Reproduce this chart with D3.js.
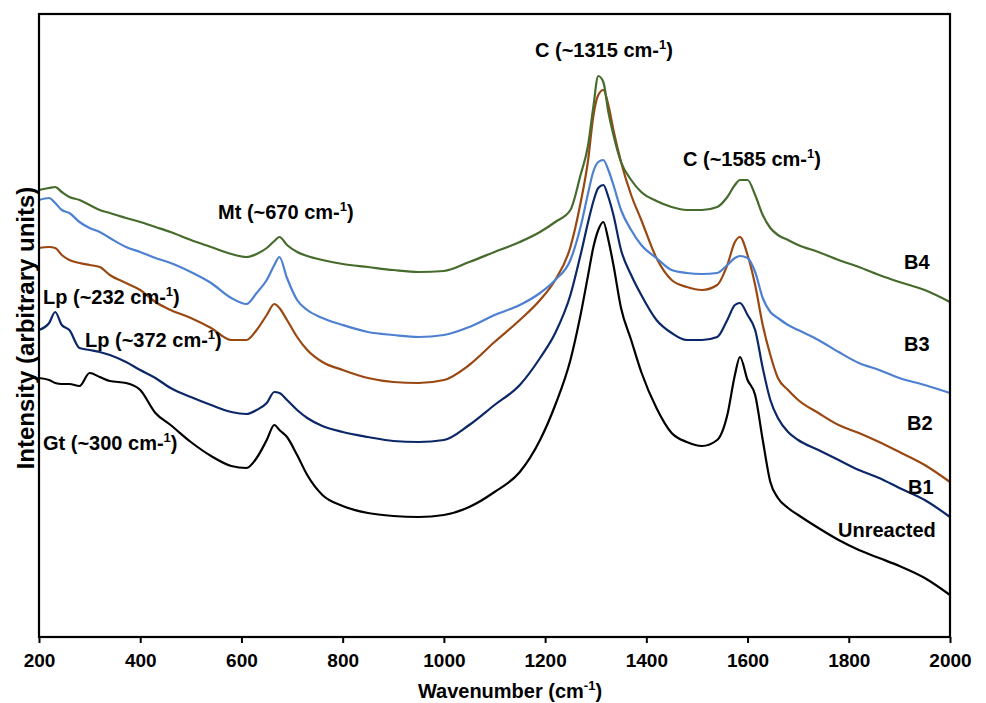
<!DOCTYPE html>
<html>
<head>
<meta charset="utf-8">
<script src="https://cdn.jsdelivr.net/npm/d3@7"></script>
<style>
  html, body { margin: 0; padding: 0; background: #fff; }
  svg { display: block; }
  text { font-family: Arial, "Liberation Sans", sans-serif; font-weight: bold; fill: #000; }
</style>
</head>
<body>
<svg id="chart" width="986" height="703"></svg>
<script>
// Wavenumber grid (cm-1)
const wavenumber = [200, 220, 232, 245, 260, 280, 300, 320, 340, 372,
  400, 430, 460, 500, 540, 580, 610, 630, 650, 665,
  675, 690, 710, 730, 760, 800, 850, 900, 950, 1000,
  1050, 1100, 1150, 1190, 1220, 1250, 1270, 1285, 1295, 1305,
  1315, 1325, 1335, 1350, 1370, 1390, 1420, 1450, 1480, 1510,
  1540, 1560, 1575, 1585, 1600, 1615, 1630, 1645, 1660, 1680,
  1700, 1740, 1780, 1820, 1860, 1900, 1950, 2000];

// Intensities (arbitrary units, offset as in the figure)
const unreacted = [259, 257, 254, 253, 253, 251, 264, 260, 256, 254,
  247, 224, 212, 195, 181, 171, 169, 179, 197, 212,
  207, 200, 182, 162, 142, 131, 124, 121, 120, 122,
  130, 145, 165, 197, 232, 277, 322, 362, 389, 407,
  415, 397, 372, 329, 297, 265, 229, 204, 195, 191,
  197, 222, 262, 280, 257, 242, 197, 155, 139, 129,
  122, 109, 97, 87, 79, 71, 59, 42];

const b1 = [307, 314, 325, 312, 307, 289, 287, 285, 282, 275,
  267, 259, 249, 240, 232, 225, 223, 227, 234, 245,
  244, 237, 227, 219, 211, 205, 200, 196, 195, 197,
  212, 232, 252, 279, 304, 342, 382, 415, 435, 449,
  452, 440, 422, 387, 362, 342, 317, 304, 297, 297,
  300, 317, 332, 334, 322, 307, 269, 237, 219, 205,
  197, 187, 177, 167, 159, 149, 137, 120];

const b2 = [389, 390, 389, 382, 377, 374, 372, 370, 362, 354,
  347, 335, 327, 319, 309, 297, 297, 307, 322, 333,
  329, 317, 300, 287, 275, 267, 259, 255, 254, 257,
  272, 295, 317, 337, 357, 390, 434, 477, 520, 542,
  547, 532, 507, 475, 442, 417, 379, 357, 350, 347,
  352, 372, 395, 400, 382, 352, 312, 282, 259, 247,
  237, 224, 212, 204, 195, 185, 172, 155];

const b3 = [437, 439, 434, 427, 424, 415, 409, 405, 399, 390,
  385, 379, 374, 365, 354, 339, 333, 344, 357, 372,
  380, 359, 337, 327, 319, 312, 305, 302, 300, 302,
  310, 322, 332, 344, 357, 377, 410, 444, 465, 475,
  477, 467, 452, 427, 407, 392, 379, 367, 364, 363,
  364, 372, 379, 381, 379, 365, 339, 325, 319, 312,
  307, 297, 285, 274, 267, 259, 252, 244];

const b4 = [447, 449, 450, 445, 440, 437, 432, 427, 424, 419,
  415, 410, 405, 397, 390, 383, 380, 383, 389, 396,
  400, 392, 385, 381, 377, 373, 370, 367, 365, 366,
  375, 385, 395, 405, 415, 427, 462, 492, 529, 561,
  555, 525, 502, 475, 457, 445, 436, 430, 427, 427,
  430, 440, 452, 457, 457, 442, 422, 409, 402, 397,
  392, 385, 377, 370, 362, 355, 347, 335];

const seriesNames = ["Unreacted", "B1", "B2", "B3", "B4"];
const seriesColors = ["#000000", "#0b2767", "#9a4812", "#4e80d2", "#466b2c"];
const seriesValues = [unreacted, b1, b2, b3, b4];

const xTicks = [200, 400, 600, 800, 1000, 1200, 1400, 1600, 1800, 2000];

// Peak annotations (superscript "1" appended)
const peakLabels = ["C (~1315 cm-", "C (~1585 cm-", "Mt (~670 cm-", "Lp (~232 cm-", "Lp (~372 cm-", "Gt (~300 cm-"];
const seriesLabels = ["Unreacted", "B1", "B2", "B3", "B4"];

// ---------- layout ----------
const svg = d3.select("#chart");
const plot = { left: 39, right: 950, top: 14, bottom: 637 };

const x = d3.scaleLinear().domain([200, 2000]).range([plot.left, plot.right]);
const y = d3.scaleLinear().domain([0, 623]).range([plot.bottom, plot.top]);

const line = d3.line()
  .x((d, i) => x(wavenumber[i]))
  .y(d => y(d))
  .curve(d3.curveMonotoneX);

const gLines = svg.append("g");
seriesValues.forEach((vals, k) => {
  gLines.append("path")
    .datum(vals)
    .attr("fill", "none")
    .attr("stroke", seriesColors[k])
    .attr("stroke-width", 2.2)
    .attr("stroke-linejoin", "round")
    .attr("d", line);
});

// frame
svg.append("rect")
  .attr("x", plot.left).attr("y", plot.top)
  .attr("width", plot.right - plot.left).attr("height", plot.bottom - plot.top)
  .attr("fill", "none").attr("stroke", "#000").attr("stroke-width", 2.2);

// x axis
const xAxis = d3.axisBottom(x).tickValues(xTicks).tickSize(6).tickSizeOuter(0).tickPadding(11).tickFormat(d3.format("d"));
const gx = svg.append("g").attr("transform", `translate(0,${plot.bottom})`).call(xAxis);
gx.select(".domain").remove();
gx.selectAll(".tick line").attr("stroke", "#000").attr("stroke-width", 2);
gx.selectAll(".tick text").attr("font-size", 19).attr("font-weight", "bold")
  .attr("font-family", "Arial, 'Liberation Sans', sans-serif").attr("fill", "#000");

// axis titles
const xt = svg.append("text").attr("x", 510).attr("y", 698).attr("text-anchor", "middle").attr("font-size", 20);
xt.append("tspan").text("Wavenumber (cm");
xt.append("tspan").attr("font-size", 13).attr("dy", -8).text("-1");
xt.append("tspan").attr("dy", 8).text(")");

svg.append("text")
  .attr("transform", "translate(34,328) rotate(-90)")
  .attr("text-anchor", "middle").attr("font-size", 24)
  .text("Intensity (arbitrary units)");

// peak annotations
const peakPos = [[535, 57], [683, 166], [218, 219], [43, 304], [85, 347], [43, 450]];
peakLabels.forEach((lab, i) => {
  const t = svg.append("text").attr("x", peakPos[i][0]).attr("y", peakPos[i][1]).attr("font-size", 20);
  t.append("tspan").text(lab);
  t.append("tspan").attr("font-size", 13).attr("dy", -8).text("1");
  t.append("tspan").attr("dy", 8).text(")");
});

// series labels
const seriesPos = [[838, 537], [908, 494], [907, 430], [904, 351], [904, 269]];
seriesLabels.forEach((lab, i) => {
  svg.append("text").attr("x", seriesPos[i][0]).attr("y", seriesPos[i][1]).attr("font-size", 20).text(lab);
});
</script>
</body>
</html>
